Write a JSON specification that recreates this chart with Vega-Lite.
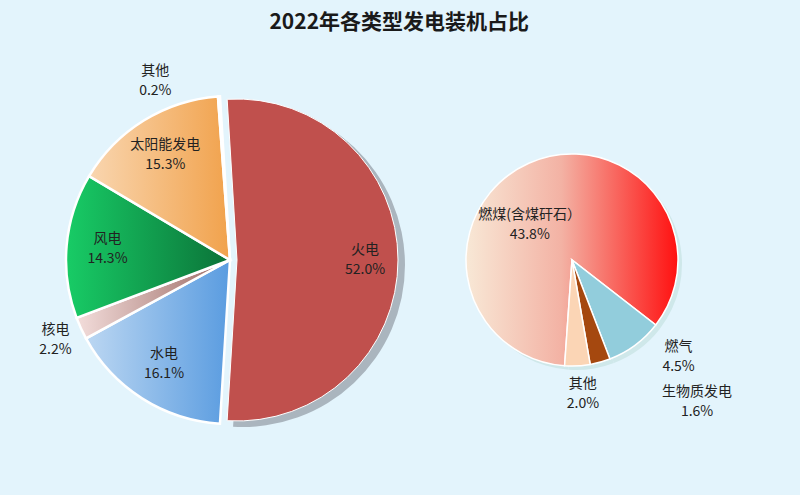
{
  "$schema": "https://vega.github.io/schema/vega-lite/v6.json",
  "background": "#e3f4fc",
  "bounds": "flush",
  "padding": {"left": 38, "top": 12, "right": 80, "bottom": 30},
  "title": {"text": "2022年各类型发电装机占比", "fontSize": 21, "fontWeight": "bold", "font": "Noto Sans CJK SC", "color": "#1a1a1a", "anchor": "middle", "offset": 17, "dx": 10},
  "config": {"view": {"stroke": null}, "text": {"font": "Noto Sans CJK SC", "fontSize": 14, "color": "#222222"}},
  "spacing": 42,
  "hconcat": [
    {
      "width": 380,
      "height": 420,
      "data": {"values": [
        {"k": 1, "name": "火电", "pct": 0.520},
        {"k": 2, "name": "水电", "pct": 0.161},
        {"k": 3, "name": "核电", "pct": 0.022},
        {"k": 4, "name": "风电", "pct": 0.143},
        {"k": 5, "name": "太阳能发电", "pct": 0.153},
        {"k": 6, "name": "其他", "pct": 0.002}
      ]},
      "encoding": {
        "theta": {"field": "pct", "type": "quantitative", "stack": true, "scale": {"range": [-0.0611, 6.2221]}},
        "order": {"field": "k", "type": "quantitative"}
      },
      "layer": [
        {
          "mark": {"type": "arc", "outerRadius": 162, "xOffset": 13, "yOffset": 5},
          "encoding": {
            "fill": {"condition": {"test": "datum.name === '火电'", "value": "#aab5be"}, "value": null}
          }
        },
        {
          "mark": {"type": "arc", "outerRadius": 164, "stroke": "#ffffff", "strokeWidth": 2.5},
          "encoding": {
            "fill": {"condition": [
              {"test": "datum.name === '水电'", "value": {"gradient": "linear", "x1": 0, "y1": 0, "x2": 1, "y2": 0, "stops": [{"offset": 0, "color": "#bcd7f2"}, {"offset": 1, "color": "#5a9ce0"}]}},
              {"test": "datum.name === '核电'", "value": {"gradient": "linear", "x1": 0, "y1": 0, "x2": 1, "y2": 0, "stops": [{"offset": 0, "color": "#f3dddb"}, {"offset": 1, "color": "#9a6862"}]}},
              {"test": "datum.name === '风电'", "value": {"gradient": "linear", "x1": 0, "y1": 0, "x2": 1, "y2": 0, "stops": [{"offset": 0, "color": "#18cc66"}, {"offset": 1, "color": "#0b7238"}]}},
              {"test": "datum.name === '太阳能发电'", "value": {"gradient": "linear", "x1": 0, "y1": 0, "x2": 1, "y2": 0, "stops": [{"offset": 0, "color": "#f9d6b0"}, {"offset": 1, "color": "#f1a24c"}]}},
              {"test": "datum.name === '其他'", "value": "#c2d9ee"}
            ], "value": null},
            "strokeOpacity": {"condition": {"test": "datum.name === '火电'", "value": 0}, "value": 1}
          }
        },
        {
          "mark": {"type": "arc", "outerRadius": 161, "xOffset": 7, "stroke": "#ffffff", "strokeWidth": 1},
          "encoding": {
            "fill": {"condition": {"test": "datum.name === '火电'", "value": "#c0504d"}, "value": null},
            "strokeOpacity": {"condition": {"test": "datum.name === '火电'", "value": 1}, "value": 0}
          }
        },
        {
          "mark": {"type": "text", "radius": 123, "dy": -10},
          "encoding": {"text": {"field": "name", "condition": {"test": "indexof(['太阳能发电','风电','水电'], datum.name) < 0", "value": ""}}}
        },
        {
          "mark": {"type": "text", "radius": 123, "dy": 10},
          "encoding": {"text": {"field": "pct", "type": "quantitative", "format": ".1%", "condition": {"test": "indexof(['太阳能发电','风电','水电'], datum.name) < 0", "value": ""}}}
        },
        {
          "mark": {"type": "text", "radius": 128, "dx": 7, "dy": -10},
          "encoding": {"text": {"field": "name", "condition": {"test": "datum.name !== '火电'", "value": ""}}}
        },
        {
          "mark": {"type": "text", "radius": 128, "dx": 7, "dy": 10},
          "encoding": {"text": {"field": "pct", "type": "quantitative", "format": ".1%", "condition": {"test": "datum.name !== '火电'", "value": ""}}}
        },
        {
          "mark": {"type": "text", "radius": 192, "dy": -10},
          "encoding": {"text": {"field": "name", "condition": {"test": "datum.name !== '核电'", "value": ""}}}
        },
        {
          "mark": {"type": "text", "radius": 192, "dy": 10},
          "encoding": {"text": {"field": "pct", "type": "quantitative", "format": ".1%", "condition": {"test": "datum.name !== '核电'", "value": ""}}}
        },
        {
          "mark": {"type": "text", "radius": 194, "thetaOffset": -0.328, "dy": -10},
          "encoding": {"text": {"field": "name", "condition": {"test": "datum.name !== '其他'", "value": ""}}}
        },
        {
          "mark": {"type": "text", "radius": 194, "thetaOffset": -0.328, "dy": 10},
          "encoding": {"text": {"field": "pct", "type": "quantitative", "format": ".1%", "condition": {"test": "datum.name !== '其他'", "value": ""}}}
        }
      ]
    },
    {
      "width": 220,
      "height": 420,
      "data": {"values": [
        {"k": 1, "name": "燃煤(含煤矸石）", "pct": 0.438},
        {"k": 2, "name": "燃气", "pct": 0.045},
        {"k": 3, "name": "生物质发电", "pct": 0.016},
        {"k": 4, "name": "其他", "pct": 0.020}
      ]},
      "encoding": {
        "theta": {"field": "pct", "type": "quantitative", "stack": true, "scale": {"range": [3.2114, 9.4946]}},
        "order": {"field": "k", "type": "quantitative"}
      },
      "layer": [
        {
          "mark": {"type": "arc", "outerRadius": 106, "xOffset": 4, "yOffset": 4, "fill": "#cfe8ea"}
        },
        {
          "mark": {"type": "arc", "outerRadius": 106, "stroke": "#ffffff", "strokeWidth": 1.5},
          "encoding": {
            "fill": {"condition": [
              {"test": "datum.name === '燃煤(含煤矸石）'", "value": {"gradient": "linear", "x1": 0, "y1": 0, "x2": 1, "y2": 0, "stops": [{"offset": 0, "color": "#f8e8d6"}, {"offset": 0.45, "color": "#f3b2a4"}, {"offset": 1, "color": "#ff1010"}]}},
              {"test": "datum.name === '燃气'", "value": "#92cddc"},
              {"test": "datum.name === '生物质发电'", "value": "#a5480f"}
            ], "value": "#fbd5b5"}
          }
        },
        {
          "mark": {"type": "text", "radius": 55, "thetaOffset": -0.456, "dy": -10},
          "encoding": {"text": {"field": "name", "condition": {"test": "datum.name !== '燃煤(含煤矸石）'", "value": ""}}}
        },
        {
          "mark": {"type": "text", "radius": 55, "thetaOffset": -0.456, "dy": 10},
          "encoding": {"text": {"field": "pct", "type": "quantitative", "format": ".1%", "condition": {"test": "datum.name !== '燃煤(含煤矸石）'", "value": ""}}}
        },
        {
          "mark": {"type": "text", "radius": 144, "thetaOffset": -0.195, "dy": -10},
          "encoding": {"text": {"field": "name", "condition": {"test": "datum.name !== '燃气'", "value": ""}}}
        },
        {
          "mark": {"type": "text", "radius": 144, "thetaOffset": -0.195, "dy": 10},
          "encoding": {"text": {"field": "pct", "type": "quantitative", "format": ".1%", "condition": {"test": "datum.name !== '燃气'", "value": ""}}}
        },
        {
          "mark": {"type": "text", "radius": 189, "thetaOffset": -0.454, "dy": -10},
          "encoding": {"text": {"field": "name", "condition": {"test": "datum.name !== '生物质发电'", "value": ""}}}
        },
        {
          "mark": {"type": "text", "radius": 189, "thetaOffset": -0.454, "dy": 10},
          "encoding": {"text": {"field": "pct", "type": "quantitative", "format": ".1%", "condition": {"test": "datum.name !== '生物质发电'", "value": ""}}}
        },
        {
          "mark": {"type": "text", "radius": 134, "thetaOffset": -0.03, "dy": -10},
          "encoding": {"text": {"field": "name", "condition": {"test": "datum.name !== '其他'", "value": ""}}}
        },
        {
          "mark": {"type": "text", "radius": 134, "thetaOffset": -0.03, "dy": 10},
          "encoding": {"text": {"field": "pct", "type": "quantitative", "format": ".1%", "condition": {"test": "datum.name !== '其他'", "value": ""}}}
        }
      ]
    }
  ]
}
